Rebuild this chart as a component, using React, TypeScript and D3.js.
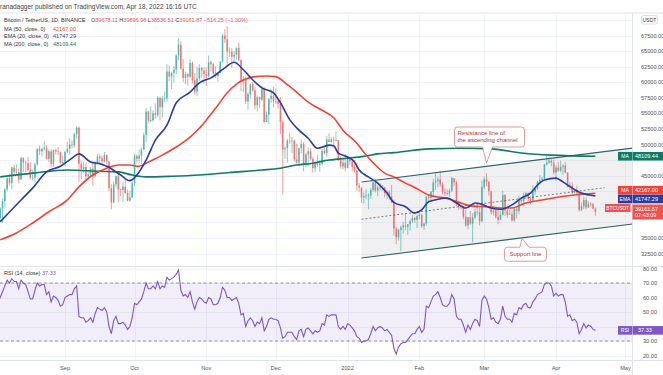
import { useEffect, useRef } from 'react';
import * as d3 from 'd3';

const WIDTH = 663;
const HEIGHT = 375;
const FONT = "'Liberation Sans', Arial, sans-serif";
const DAY = 86400000;

const UP = '#26a69a';
const DOWN = '#ef5350';
const MA50_COLOR = '#f44336';
const EMA20_COLOR = '#2a3c9e';
const MA200_COLOR = '#0f7b63';
const RSI_COLOR = '#7e57c2';
const NOTE_COLOR = '#b5332e';

// Daily BTC/USDT candles from 2021-08-03, values in thousands (open = previous close)
const firstCandle = '2021-08-03';
const firstOpen = 39.2;
const highs = [
  39.8, 39.9, 41.3, 43.0, 44.7, 45.3, 46.4, 46.7, 46.8, 46.2, 48.1, 48.0, 47.4, 48.0, 47.2, 46.0, 47.1, 49.4, 49.8, 49.5, 50.5, 49.9, 49.2, 49.3, 49.2, 49.3, 49.6, 48.9, 48.2,
  49.0, 50.4, 51.0, 50.6, 51.9, 52.9, 52.9, 47.4, 47.3, 47.0, 45.9, 46.4, 46.9, 47.3, 48.5, 48.5, 48.2, 48.8, 48.4, 47.3, 43.6, 44.0, 45.0, 45.2, 42.9, 44.0, 44.4, 42.8, 42.6, 44.1,
  48.5, 48.4, 49.2, 49.5, 51.9, 55.8, 55.3, 56.1, 55.5, 56.6, 57.8, 57.7, 57.8, 58.5, 62.9, 62.7, 61.7, 62.6, 64.5, 67.0, 66.6, 63.7, 61.7, 61.5, 63.7, 63.3, 61.5, 62.5, 62.9, 62.4, 62.4,
  62.4, 64.3, 63.5, 63.1, 62.6, 61.6, 63.3, 67.8, 68.5, 69.0, 65.6, 65.5, 65.0, 65.6, 66.4, 63.6, 61.0, 60.9, 58.4, 59.8, 60.0, 59.3, 57.9, 57.7, 59.4, 59.2, 55.3, 57.4, 58.9, 59.2,
  59.0, 57.4, 57.6, 53.9, 49.7, 50.9, 51.9, 51.2, 50.8, 50.1, 49.5, 50.8, 50.4, 48.7, 49.5, 49.4, 48.0, 47.3, 48.3, 47.5, 49.3, 49.6, 51.4, 51.8, 51.2, 51.3, 52.1, 50.7, 48.1, 47.9, 48.5,
  47.9, 47.9, 47.6, 47.5, 47.1, 43.8, 43.1, 42.3, 42.8, 42.2, 43.0, 44.3, 44.5, 43.4, 43.8, 43.5, 43.2, 42.7, 42.6, 43.5, 41.1, 36.8, 36.5, 37.0, 37.6, 38.9, 37.2, 38.0, 38.7, 38.4, 38.7,
  39.3, 38.9, 37.4, 41.7, 42.0, 42.5, 44.5, 45.5, 44.8, 45.8, 43.9, 43.0, 42.8, 42.9, 44.8, 44.6, 44.2, 40.9, 40.5, 40.1, 39.5, 38.4, 39.3, 39.0, 39.7, 40.3, 39.9, 44.2,
  44.9, 45.4, 44.1, 42.6, 39.6, 39.6, 39.5, 39.4, 42.6, 42.0, 40.2, 39.5, 39.3, 39.9, 39.9, 41.7, 41.5, 42.3, 42.4, 42.3, 41.7, 43.4, 43.0, 44.2, 45.1, 44.8, 46.9, 48.2, 48.1, 47.7, 47.6,
  46.7, 47.2, 47.4, 46.9, 47.2, 45.5, 43.9, 43.9, 42.8, 43.4, 42.4, 40.7, 41.6, 41.5, 40.9, 40.7, 40.6, 39.897,
];
const lows = [
  37.6, 37.6, 37.4, 39.9, 42.5, 43.4, 42.8, 44.9, 45.3, 43.8, 44.3, 45.6, 45.5, 45.7, 44.4, 44.2, 43.9, 46.6, 48.3, 48.1, 49.0, 47.6, 47.2, 46.3, 46.4, 48.4, 48.3, 46.9, 46.7,
  46.5, 48.6, 48.4, 49.4, 49.5, 50.9, 44.0, 44.4, 45.5, 44.2, 44.8, 44.8, 43.4, 44.7, 46.7, 47.0, 46.8, 47.1, 46.8, 42.5, 39.6, 40.6, 43.1, 40.7, 41.7, 40.8, 42.1, 40.9, 40.8, 41.4,
  43.3, 47.1, 47.1, 46.9, 49.1, 50.4, 53.4, 53.6, 53.7, 54.1, 54.4, 53.9, 54.3, 56.8, 56.9, 60.2, 58.9, 60.0, 61.3, 63.5, 62.0, 60.0, 59.7, 59.5, 60.7, 59.8, 58.0, 57.8, 60.2, 60.7, 59.8,
  59.4, 60.7, 61.7, 60.7, 60.7, 60.1, 61.4, 63.1, 66.3, 62.8, 64.1, 62.3, 63.4, 63.6, 63.4, 58.6, 58.4, 56.5, 55.6, 57.4, 58.5, 55.6, 55.3, 55.9, 57.0, 53.5, 53.6, 53.3, 56.7, 56.0,
  56.5, 55.8, 51.7, 42.0, 47.7, 47.1, 50.1, 48.6, 47.3, 46.9, 46.6, 48.6, 45.7, 46.3, 46.5, 47.5, 45.5, 45.6, 46.4, 45.6, 46.6, 48.4, 48.0, 50.4, 50.2, 49.5, 50.5, 47.3, 46.1, 46.0, 45.7,
  46.2, 46.7, 45.7, 45.5, 42.5, 42.4, 40.6, 40.5, 41.2, 39.6, 41.3, 42.4, 42.3, 41.7, 42.6, 42.6, 41.5, 41.2, 41.1, 40.6, 35.4, 34.0, 34.6, 32.9, 35.7, 36.2, 35.5, 36.2, 37.4, 37.4, 36.6,
  38.0, 36.6, 36.3, 37.0, 40.9, 41.1, 41.7, 42.7, 43.2, 43.2, 42.0, 41.7, 41.9, 41.6, 42.4, 43.3, 40.1, 39.5, 39.6, 38.0, 36.8, 36.4, 37.1, 34.3, 38.0, 38.6, 37.0, 37.5,
  42.8, 43.3, 41.8, 38.7, 38.6, 38.1, 37.2, 37.9, 38.6, 38.5, 38.2, 38.7, 37.6, 37.6, 38.1, 38.8, 40.5, 40.1, 41.5, 40.9, 40.5, 40.9, 41.9, 42.6, 43.6, 44.1, 44.4, 46.6, 46.9, 46.5, 45.2,
  44.2, 45.6, 45.5, 45.1, 45.4, 43.1, 42.7, 42.1, 42.1, 42.0, 39.2, 39.3, 39.6, 39.6, 39.8, 40.0, 39.6, 38.537,
];
const closes = [
  38.2, 39.7, 40.9, 42.8, 44.6, 43.8, 46.3, 45.6, 45.6, 44.4, 47.8, 47.1, 47.0, 45.9, 44.7, 44.7, 46.8, 49.3, 48.9, 49.3, 49.5, 47.7, 48.9, 46.9, 49.1, 48.9, 48.8, 47.0, 47.2,
  48.8, 49.3, 50.0, 49.9, 51.7, 52.7, 46.9, 46.1, 46.4, 44.9, 45.2, 46.1, 44.9, 47.1, 48.1, 47.8, 47.3, 48.3, 47.3, 43.0, 40.7, 43.6, 44.9, 42.8, 42.7, 43.2, 42.2, 41.0, 41.5, 43.8,
  48.2, 47.7, 48.2, 49.2, 51.5, 55.3, 53.8, 53.9, 55.0, 54.7, 57.5, 56.0, 57.4, 57.4, 61.7, 60.9, 61.5, 62.0, 64.3, 66.0, 62.2, 60.7, 61.3, 60.9, 63.1, 60.3, 58.5, 60.6, 62.3, 61.9, 61.3,
  61.0, 63.2, 62.9, 61.4, 61.0, 61.5, 63.3, 67.5, 66.9, 64.9, 64.9, 64.1, 64.4, 65.5, 63.6, 60.1, 60.4, 56.9, 58.1, 59.7, 58.7, 56.3, 57.6, 57.2, 58.9, 53.6, 54.8, 57.3, 57.8, 57.0,
  56.9, 56.5, 53.6, 49.2, 49.4, 50.6, 50.5, 50.6, 47.6, 47.1, 49.4, 50.1, 46.7, 48.4, 48.9, 47.7, 46.2, 46.9, 46.7, 46.9, 49.0, 48.6, 50.8, 50.4, 50.8, 50.7, 50.7, 47.5, 46.5, 47.1, 46.2,
  47.7, 47.3, 46.4, 45.8, 43.4, 43.1, 41.5, 41.7, 41.8, 41.8, 42.7, 43.9, 42.6, 43.1, 43.2, 43.1, 42.2, 42.4, 41.7, 40.7, 36.5, 35.1, 36.3, 36.7, 37.0, 36.8, 37.2, 37.7, 38.2, 37.9, 38.5,
  38.7, 36.9, 37.3, 41.6, 41.4, 42.4, 43.9, 44.1, 44.4, 43.6, 42.4, 42.2, 42.1, 42.6, 44.6, 43.9, 40.6, 40.0, 40.1, 38.4, 37.0, 38.3, 37.3, 38.3, 39.2, 39.1, 37.7, 43.2,
  44.4, 44.0, 42.5, 39.1, 39.4, 38.4, 37.9, 38.7, 41.9, 39.4, 38.7, 38.8, 37.8, 39.7, 39.3, 41.1, 40.9, 41.8, 42.2, 41.3, 41.0, 42.4, 42.9, 44.0, 44.3, 44.5, 46.8, 47.1, 47.4, 47.1, 45.5,
  46.3, 45.8, 46.4, 46.6, 45.5, 43.2, 43.4, 42.3, 42.8, 42.2, 39.5, 40.1, 41.1, 39.9, 40.5, 40.4, 39.7, 39.16187,
];

const rsiValues = [
  57, 60, 64, 68, 72, 70, 73, 71, 71, 66, 72, 70, 69, 64, 59, 59, 65, 70, 68, 69, 69, 62, 64, 57, 61, 60, 58, 54, 55,
  60, 61, 62, 62, 66, 68, 47, 46, 46, 43, 44, 46, 43, 49, 53, 52, 51, 53, 50, 40, 35, 44, 47, 42, 42, 43, 41, 38, 40, 46,
  56, 55, 57, 59, 64, 70, 66, 66, 68, 66, 71, 66, 68, 67, 74, 72, 73, 74, 76, 79, 65, 61, 62, 60, 64, 57, 52, 57, 60, 59, 57,
  56, 60, 59, 55, 55, 56, 60, 67, 65, 60, 60, 58, 59, 60, 56, 48, 49, 40, 44, 46, 44, 40, 43, 42, 46, 37, 40, 45, 46, 45,
  45, 44, 39, 32, 33, 36, 36, 36, 33, 31, 37, 38, 33, 38, 39, 37, 35, 37, 36, 37, 42, 41, 48, 47, 48, 48, 48, 40, 38, 40, 38,
  42, 41, 39, 37, 33, 32, 29, 30, 30, 31, 35, 40, 37, 39, 40, 39, 37, 38, 36, 34, 25, 21, 26, 28, 29, 29, 31, 33, 35, 35, 38,
  40, 36, 38, 54, 53, 57, 61, 62, 64, 60, 55, 54, 54, 56, 62, 59, 47, 45, 45, 41, 36, 41, 38, 42, 45, 44, 40, 58,
  61, 59, 53, 45, 46, 43, 42, 45, 54, 47, 45, 45, 43, 49, 48, 53, 52, 55, 56, 53, 53, 57, 59, 62, 63, 64, 69, 70, 70, 68, 61,
  63, 61, 62, 62, 57, 47, 48, 44, 45, 43, 35, 38, 42, 39, 41, 40, 38, 37.33,
];

// Moving averages
const ema20Points: [string, number][] = [
  ['2021-08-04', 37600], ['2021-08-13', 41100], ['2021-08-18', 43000], ['2021-08-24', 45600], ['2021-08-30', 46500],
  ['2021-09-04', 47800], ['2021-09-07', 48500], ['2021-09-12', 47200], ['2021-09-16', 46900], ['2021-09-19', 46500],
  ['2021-09-25', 45100], ['2021-09-29', 44200], ['2021-10-02', 45100], ['2021-10-06', 47500], ['2021-10-10', 50700],
  ['2021-10-15', 53100], ['2021-10-19', 56700], ['2021-10-25', 58400], ['2021-10-29', 59900], ['2021-11-03', 60700],
  ['2021-11-09', 62300], ['2021-11-13', 63200], ['2021-11-17', 62000], ['2021-11-21', 60400], ['2021-11-25', 59100],
  ['2021-11-30', 58300], ['2021-12-03', 56700], ['2021-12-07', 54000], ['2021-12-11', 52300], ['2021-12-15', 51000],
  ['2021-12-19', 49400], ['2021-12-24', 49900], ['2021-12-26', 49800], ['2021-12-28', 48600], ['2022-01-01', 48000],
  ['2022-01-04', 47200], ['2022-01-06', 45900], ['2022-01-10', 44800], ['2022-01-14', 43800], ['2022-01-18', 42200],
  ['2022-01-21', 40700], ['2022-01-26', 40000], ['2022-01-30', 39000], ['2022-02-02', 39500], ['2022-02-05', 40800],
  ['2022-02-09', 41200], ['2022-02-13', 41400], ['2022-02-17', 40600], ['2022-02-21', 39800], ['2022-02-25', 40600],
  ['2022-02-28', 40400], ['2022-03-04', 39800], ['2022-03-08', 39600], ['2022-03-13', 40300], ['2022-03-17', 41400],
  ['2022-03-21', 42200], ['2022-03-24', 43500], ['2022-03-27', 44300], ['2022-04-01', 44600], ['2022-04-04', 44000],
  ['2022-04-08', 43000], ['2022-04-12', 42200], ['2022-04-18', 41747.29],
];
const ma50Points: [string, number][] = [
  ['2021-08-04', 34700], ['2021-08-11', 35800], ['2021-08-18', 37400], ['2021-08-25', 39200], ['2021-09-02', 41100],
  ['2021-09-07', 43200], ['2021-09-13', 45100], ['2021-09-19', 46200], ['2021-09-24', 46700], ['2021-09-29', 46700],
  ['2021-10-03', 46500], ['2021-10-07', 47200], ['2021-10-13', 48300], ['2021-10-19', 49600], ['2021-10-25', 51200],
  ['2021-10-29', 52600], ['2021-11-02', 54400], ['2021-11-06', 56300], ['2021-11-10', 58300], ['2021-11-14', 59700],
  ['2021-11-18', 60500], ['2021-11-22', 60900], ['2021-11-27', 61000], ['2021-12-01', 60900], ['2021-12-06', 59600],
  ['2021-12-10', 58400], ['2021-12-15', 56800], ['2021-12-21', 55500], ['2021-12-26', 54300], ['2021-12-30', 52300],
  ['2022-01-05', 50200], ['2022-01-09', 48300], ['2022-01-13', 46700], ['2022-01-17', 45400], ['2022-01-21', 44800],
  ['2022-01-26', 43800], ['2022-01-30', 43100], ['2022-02-05', 41900], ['2022-02-12', 41400], ['2022-02-19', 40600],
  ['2022-02-24', 40100], ['2022-03-03', 40000], ['2022-03-08', 39800], ['2022-03-13', 39800], ['2022-03-18', 40500],
  ['2022-03-26', 41100], ['2022-04-03', 41600], ['2022-04-09', 41900], ['2022-04-18', 42167],
];
const ma200Points: [string, number][] = [
  ['2021-08-04', 44800], ['2021-08-18', 45400], ['2021-09-02', 45900], ['2021-09-16', 45700], ['2021-09-24', 45600],
  ['2021-09-30', 45100], ['2021-10-06', 44800], ['2021-10-17', 44900], ['2021-10-29', 45100], ['2021-11-11', 45500],
  ['2021-11-25', 45900], ['2021-12-03', 46200], ['2021-12-10', 46700], ['2021-12-17', 47000], ['2021-12-24', 47500],
  ['2022-01-01', 47800], ['2022-01-08', 48100], ['2022-01-14', 48500], ['2022-01-21', 48700], ['2022-02-05', 49300],
  ['2022-02-19', 49400], ['2022-03-04', 49300], ['2022-03-18', 48600], ['2022-03-30', 48300], ['2022-04-18', 48109.44],
];

// Drawn ascending channel (date, price)
const channelTop: [string, number][] = [['2022-01-07', 43980], ['2022-05-04', 49420]];
const channelBottom: [string, number][] = [['2022-01-07', 31770], ['2022-05-04', 37230]];
const channelMid: [string, number][] = [['2022-01-07', 37990], ['2022-04-22', 43060]];
const resistanceNote = { date: '2022-03-02', price: 47030, lines: ['Resistance line of', 'the ascending channel'] };
const supportNote = { date: '2022-03-16', price: 34950, lines: ['Support line'] };

const priceTicks = [32500, 35000, 37500, 40000, 42500, 45000, 47500, 50000, 52500, 55000, 57500, 60000, 62500, 65000, 67500, 70000];
const rsiTicks = [20, 30, 40, 50, 60, 70, 80];
const rsiBands = [70, 30];
const monthTicks = ['2021-09-01', '2021-10-01', '2021-11-01', '2021-12-01', '2022-01-01', '2022-02-01', '2022-03-01', '2022-04-01', '2022-05-01'];
const monthLabels = ['Sep', 'Oct', 'Nov', 'Dec', '2022', 'Feb', 'Mar', 'Apr', 'May'];

const lastOHLC = { o: '39678.11', h: '39896.98', l: '38536.51', c: '39161.87', chg: '−516.25 (−1.30%)' };
const lastMA50 = 42167.0;
const lastEMA20 = 41747.29;
const lastMA200 = 48109.44;
const lastClose = 39161.87;
const lastRsi = 37.33;

const parse = d3.utcParse('%Y-%m-%d');

export default function App() {
  const svgRef = useRef<SVGSVGElement>(null);

  useEffect(() => {
    if (!svgRef.current) return;
    const svg = d3.select(svgRef.current);
    svg.selectAll('*').remove();

    const plotRight = 632.5;
    const mainTop = 13.5;
    const paneSplit = 266.5;
    const axisTop = 360.5;

    const sep1 = Date.UTC(2021, 8, 1);
    const x = d3
      .scaleUtc()
      .domain([new Date(sep1 - 28.09 * DAY), new Date(sep1 + 245.03 * DAY)])
      .range([0, plotRight]);
    const y = d3.scaleLinear().domain([32500, 67500]).range([253.5, 35.5]);
    const yRsi = d3.scaleLinear().domain([30, 70]).range([341, 283]);

    const defs = svg.append('defs');
    defs.append('clipPath').attr('id', 'clip-main')
      .append('rect').attr('x', 0).attr('y', mainTop).attr('width', plotRight).attr('height', paneSplit - mainTop);
    defs.append('clipPath').attr('id', 'clip-rsi')
      .append('rect').attr('x', 0).attr('y', paneSplit).attr('width', plotRight).attr('height', axisTop - paneSplit);

    svg.append('rect').attr('width', WIDTH).attr('height', HEIGHT).attr('fill', '#fff');

    // Grid
    const grid = svg.append('g').attr('stroke', '#f0f3fa').attr('stroke-width', 1);
    priceTicks.forEach((p) => {
      const yy = Math.round(y(p)) + 0.5;
      if (yy > mainTop && yy < paneSplit) grid.append('line').attr('x1', 0).attr('x2', plotRight).attr('y1', yy).attr('y2', yy);
    });
    rsiTicks.forEach((v) => {
      const yy = Math.round(yRsi(v)) + 0.5;
      grid.append('line').attr('x1', 0).attr('x2', plotRight).attr('y1', yy).attr('y2', yy);
    });
    monthTicks.forEach((m) => {
      const xx = Math.round(x(parse(m)!)) + 0.5;
      grid.append('line').attr('x1', xx).attr('x2', xx).attr('y1', mainTop).attr('y2', axisTop);
    });

    // Main pane
    const main = svg.append('g').attr('clip-path', 'url(#clip-main)');
    const pt = (d: [string, number]): [number, number] => [x(parse(d[0])!), y(d[1])];

    // Channel shading
    const poly = [pt(channelTop[0]), pt(channelTop[1]), pt(channelBottom[1]), pt(channelBottom[0])];
    main.append('path')
      .attr('d', 'M' + poly.map((p) => p.join(',')).join('L') + 'Z')
      .attr('fill', '#b2b5be')
      .attr('fill-opacity', 0.2);

    // Candles
    const t0 = Date.parse(firstCandle + 'T00:00:00Z');
    const candles = closes.map((c, i) => {
      const o = i === 0 ? firstOpen : closes[i - 1];
      return {
        date: new Date(t0 + i * DAY),
        o: o * 1000,
        c: c * 1000,
        h: Math.max(highs[i], o, c) * 1000,
        l: Math.min(lows[i], o, c) * 1000,
      };
    });
    const candleG = main.append('g').attr('opacity', 0.8);
    candles.forEach((d) => {
      const cx = x(d.date);
      const color = d.c >= d.o ? UP : DOWN;
      candleG.append('line')
        .attr('x1', cx).attr('x2', cx)
        .attr('y1', y(d.h)).attr('y2', y(d.l))
        .attr('stroke', color).attr('stroke-width', 0.7);
      const top = y(Math.max(d.o, d.c));
      const bh = Math.max(0.7, Math.abs(y(d.o) - y(d.c)));
      candleG.append('rect')
        .attr('x', cx - 0.75).attr('y', top)
        .attr('width', 1.5).attr('height', bh)
        .attr('fill', color);
    });

    // Moving averages
    const maLine = d3.line<[string, number]>()
      .x((d) => x(parse(d[0])!))
      .y((d) => y(d[1]))
      .curve(d3.curveMonotoneX);
    [
      { pts: ma200Points, color: MA200_COLOR },
      { pts: ma50Points, color: MA50_COLOR },
      { pts: ema20Points, color: EMA20_COLOR },
    ].forEach((s) => {
      main.append('path')
        .attr('d', maLine(s.pts))
        .attr('fill', 'none')
        .attr('stroke', s.color)
        .attr('stroke-width', 1.6);
    });

    // Channel lines
    const seg = (a: [string, number][]) => 'M' + a.map((d) => pt(d).join(',')).join('L');
    main.append('path').attr('d', seg(channelTop)).attr('stroke', '#2f6468').attr('stroke-width', 1.1).attr('fill', 'none');
    main.append('path').attr('d', seg(channelBottom)).attr('stroke', '#2f6468').attr('stroke-width', 1.1).attr('fill', 'none');
    main.append('path').attr('d', seg(channelMid)).attr('stroke', '#4a4a4a').attr('stroke-width', 0.7)
      .attr('stroke-dasharray', '2,2').attr('fill', 'none');

    // Callouts
    const callout = (note: { date: string; price: number; lines: string[] }, below: boolean, w: number, h: number, dx: number) => {
      const ax = x(parse(note.date)!);
      const ay = y(note.price);
      const r = 3;
      const x0 = ax + dx;
      const x1 = x0 + w;
      let d: string;
      let y0: number;
      if (below) {
        const y1 = ay - 16;
        y0 = y1 - h;
        d = `M${x0 + r},${y0}H${x1 - r}Q${x1},${y0} ${x1},${y0 + r}V${y1 - r}Q${x1},${y1} ${x1 - r},${y1}` +
          `H${ax + 6}L${ax},${ay}L${ax - 4},${y1}H${x0 + r}Q${x0},${y1} ${x0},${y1 - r}V${y0 + r}Q${x0},${y0} ${x0 + r},${y0}Z`;
      } else {
        y0 = ay + 9;
        const y1 = y0 + h;
        d = `M${x0 + r},${y0}H${ax + 1}L${ax + 3},${ay}L${ax + 10},${y0}H${x1 - r}Q${x1},${y0} ${x1},${y0 + r}` +
          `V${y1 - r}Q${x1},${y1} ${x1 - r},${y1}H${x0 + r}Q${x0},${y1} ${x0},${y1 - r}V${y0 + r}Q${x0},${y0} ${x0 + r},${y0}Z`;
      }
      svg.append('path').attr('d', d).attr('fill', '#fff').attr('stroke', '#d9827e').attr('stroke-width', 0.8);
      note.lines.forEach((t, i) => {
        svg.append('text')
          .attr('x', note.lines.length > 1 ? x0 + 3 : (x0 + x1) / 2)
          .attr('y', y0 + 8.5 + i * 7)
          .attr('text-anchor', note.lines.length > 1 ? 'start' : 'middle')
          .attr('font-size', 6)
          .attr('fill', NOTE_COLOR)
          .text(t);
      });
    };
    callout(resistanceNote, true, 70, 20, -32);
    callout(supportNote, false, 42, 14, -14.5);

    // RSI pane
    const rsiG = svg.append('g').attr('clip-path', 'url(#clip-rsi)');
    rsiG.append('rect')
      .attr('x', 0).attr('width', plotRight)
      .attr('y', yRsi(70)).attr('height', yRsi(30) - yRsi(70))
      .attr('fill', RSI_COLOR).attr('fill-opacity', 0.1);
    rsiBands.forEach((v) => {
      rsiG.append('line')
        .attr('x1', 0).attr('x2', plotRight)
        .attr('y1', yRsi(v)).attr('y2', yRsi(v))
        .attr('stroke', '#787b86').attr('stroke-width', 0.8).attr('stroke-dasharray', '3,2.5');
    });
    const rsiLine = d3.line<number>()
      .x((_, i) => x(new Date(t0 + i * DAY)))
      .y((v) => yRsi(v));
    rsiG.append('path').attr('d', rsiLine(rsiValues)).attr('fill', 'none')
      .attr('stroke', RSI_COLOR).attr('stroke-width', 1.1);

    // Separators
    const sepG = svg.append('g').attr('stroke', '#e0e3eb').attr('stroke-width', 1);
    sepG.append('line').attr('x1', 0).attr('x2', WIDTH).attr('y1', mainTop - 0.5).attr('y2', mainTop - 0.5);
    sepG.append('line').attr('x1', 0).attr('x2', WIDTH).attr('y1', paneSplit).attr('y2', paneSplit);
    sepG.append('line').attr('x1', 0).attr('x2', WIDTH).attr('y1', axisTop).attr('y2', axisTop);
    sepG.append('line').attr('x1', plotRight).attr('x2', plotRight).attr('y1', mainTop).attr('y2', HEIGHT);

    // Tag positions (labels hidden under them are skipped)
    const yMa = y(lastMA50);
    const yEma = y(lastEMA20);
    const mid = (yMa + yEma) / 2;
    const yMaTag = Math.min(yMa, mid - 4.4);
    const yEmaTag = Math.max(yEma, mid + 4.4);
    const yMa200Tag = y(lastMA200);
    const yLast = y(lastClose);
    const covered = (yy: number) =>
      [yMaTag, yEmaTag, yMa200Tag].some((t) => Math.abs(t - yy) < 7.5) ||
      (yy > yLast - 11 && yy < yLast + 11) || yy < 24;

    // Price axis
    const axisText = svg.append('g').attr('font-size', 5.6).attr('fill', '#50535e');
    priceTicks.forEach((p) => {
      if (covered(y(p))) return;
      axisText.append('text').attr('x', 641).attr('y', y(p) + 2).text(d3.format('.2f')(p));
    });
    rsiTicks.forEach((v) => {
      if (Math.abs(yRsi(v) - yRsi(lastRsi)) < 7) return;
      axisText.append('text').attr('x', 643).attr('y', yRsi(v) + 2).text(d3.format('.2f')(v));
    });
    monthTicks.forEach((m, i) => {
      axisText.append('text')
        .attr('x', x(parse(m)!)).attr('y', 369.5)
        .attr('text-anchor', 'middle')
        .text(monthLabels[i]);
    });

    // Currency badge
    svg.append('rect').attr('x', 641.5).attr('y', 15.5).attr('width', 16).attr('height', 8.5).attr('rx', 2)
      .attr('fill', '#fff').attr('stroke', '#c8cad2').attr('stroke-width', 0.6);
    svg.append('text').attr('x', 649.5).attr('y', 21.8).attr('text-anchor', 'middle')
      .attr('font-size', 5).attr('fill', '#333').text('USDT');

    // Value tags
    const tag = (yc: number, label: string, value: string, color: string) => {
      svg.append('rect').attr('x', 618).attr('y', yc - 4.3).attr('width', 14).attr('height', 8.6).attr('fill', color);
      svg.append('rect').attr('x', 632.5).attr('y', yc - 4.3).attr('width', 30.5).attr('height', 8.6).attr('fill', color);
      svg.append('text').attr('x', 625).attr('y', yc + 2).attr('text-anchor', 'middle')
        .attr('font-size', 5).attr('fill', '#fff').text(label);
      svg.append('text').attr('x', 635).attr('y', yc + 2)
        .attr('font-size', 5.5).attr('fill', '#fff').text(value);
    };
    tag(yMa200Tag, 'MA', d3.format('.2f')(lastMA200), MA200_COLOR);
    tag(yMaTag, 'MA', d3.format('.2f')(lastMA50), MA50_COLOR);
    tag(yEmaTag, 'EMA', d3.format('.2f')(lastEMA20), EMA20_COLOR);

    svg.append('rect').attr('x', 605).attr('y', yLast - 8).attr('width', 25.5).attr('height', 8).attr('fill', DOWN);
    svg.append('text').attr('x', 617.7).attr('y', yLast - 2.2).attr('text-anchor', 'middle')
      .attr('font-size', 4.8).attr('fill', '#fff').text('BTCUSDT');
    svg.append('rect').attr('x', 632.5).attr('y', yLast - 7.5).attr('width', 30.5).attr('height', 15).attr('fill', DOWN);
    svg.append('text').attr('x', 635).attr('y', yLast - 1.5).attr('font-size', 5.5).attr('fill', '#fff').text(d3.format('.2f')(lastClose));
    svg.append('text').attr('x', 635).attr('y', yLast + 5.3).attr('font-size', 5.5).attr('fill', '#fff').text('07:43:09');

    svg.append('rect').attr('x', 618).attr('y', yRsi(lastRsi) - 4.3).attr('width', 14).attr('height', 8.6).attr('fill', RSI_COLOR);
    svg.append('rect').attr('x', 632.5).attr('y', yRsi(lastRsi) - 4.3).attr('width', 30.5).attr('height', 8.6).attr('fill', RSI_COLOR);
    svg.append('text').attr('x', 625).attr('y', yRsi(lastRsi) + 2).attr('text-anchor', 'middle')
      .attr('font-size', 5).attr('fill', '#fff').text('RSI');
    svg.append('text').attr('x', 638).attr('y', yRsi(lastRsi) + 2).attr('font-size', 5.5).attr('fill', '#fff').text(d3.format('.2f')(lastRsi));

    // Header and legends
    svg.append('text').attr('x', 0).attr('y', 9.3).attr('font-size', 6.5).attr('fill', '#444')
      .text('ranadagger published on TradingView.com, Apr 18, 2022 16:16 UTC');

    const legend = svg.append('g').attr('font-size', 5.5);
    legend.append('text').attr('x', 4).attr('y', 22).attr('fill', '#333').text('Bitcoin / TetherUS, 1D, BINANCE');
    const ohlc = legend.append('text').attr('x', 91).attr('y', 22).attr('fill', DOWN);
    [['O', lastOHLC.o], [' H', lastOHLC.h], [' L', lastOHLC.l], [' C', lastOHLC.c]].forEach(([k, v]) => {
      ohlc.append('tspan').attr('fill', '#333').text(k);
      ohlc.append('tspan').text(v);
    });
    ohlc.append('tspan').text(' ' + lastOHLC.chg);

    [
      { label: 'MA (50, close, 0)', value: lastMA50, color: MA50_COLOR, yy: 31 },
      { label: 'EMA (20, close, 0)', value: lastEMA20, color: EMA20_COLOR, yy: 38.4 },
      { label: 'MA (200, close, 0)', value: lastMA200, color: MA200_COLOR, yy: 45.8 },
    ].forEach((l) => {
      legend.append('text').attr('x', 4).attr('y', l.yy).attr('fill', '#333').text(l.label);
      legend.append('text').attr('x', 53).attr('y', l.yy).attr('fill', l.color).text(d3.format('.2f')(l.value));
    });
    legend.append('text').attr('x', 4).attr('y', 275).attr('fill', '#333').text('RSI (14, close)');
    legend.append('text').attr('x', 42).attr('y', 275).attr('fill', RSI_COLOR).text(d3.format('.2f')(lastRsi));
  }, []);

  return (
    <svg
      ref={svgRef}
      width={WIDTH}
      height={HEIGHT}
      style={{ position: 'absolute', left: 0, top: 0, background: '#fff', fontFamily: FONT }}
    />
  );
}
